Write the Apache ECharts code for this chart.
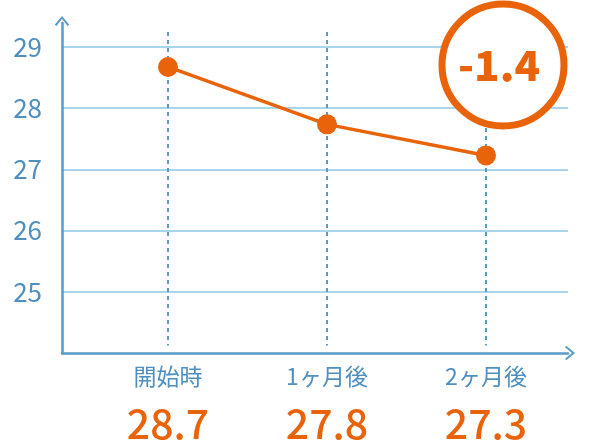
<!DOCTYPE html>
<html>
<head>
<meta charset="utf-8">
<script src="https://cdn.jsdelivr.net/npm/echarts@6/dist/echarts.min.js"></script>
<style>
  html, body { margin: 0; padding: 0; background: #fff; }
  #chart { width: 600px; height: 444px; }
</style>
</head>
<body>
<div id="chart"></div>
<script>
// データ
var categories = ['開始時', '1ヶ月後', '2ヶ月後'];
var values = [28.66, 27.7, 27.18];          // plotted positions
var valueLabels = ['28.7', '27.8', '27.3'];  // printed under axis
var yTicks = [25, 26, 27, 28, 29];
var diffText = '-1.4';

var orange = '#E8630A';
var blue = '#5a9ac6';
var textBlue = '#4f8fc0';
var gridBlue = '#a9d5ec';
var font = '"Noto Sans CJK JP", "Noto Sans", sans-serif';

// 矢印 (open chevron)
var chevron = 'path://M0,9 L7.5,0 L15,9 L13.3,10.3 L7.5,3.2 L1.7,10.3 Z';

var chart = echarts.init(document.getElementById('chart'));
var option = {
    animation: false,
    grid: [
        {left: 62, right: 32, top: 23, bottom: 91},
        {left: 168, right: 114, top: 32, bottom: 91}
    ],
    xAxis: [
        {
            gridIndex: 0, type: 'value', min: 0, max: 1,
            axisLine: {show: true, lineStyle: {color: blue, width: 2.5},
                symbol: ['none', chevron], symbolSize: [15, 10], symbolOffset: [0, 2]},
            axisTick: {show: false}, axisLabel: {show: false}, splitLine: {show: false}
        },
        {
            gridIndex: 1, type: 'category', boundaryGap: false, data: categories,
            axisLine: {show: false}, axisTick: {show: false},
            splitLine: {show: true, lineStyle: {color: blue, width: 2, type: [4, 4]}},
            axisLabel: {
                margin: 16,
                formatter: function (v, i) {
                    return '{c|' + v + '}\n{v|' + valueLabels[i] + '}';
                },
                rich: {
                    c: {fontSize: 23, color: textBlue, fontFamily: font, lineHeight: 30},
                    v: {fontSize: 41, color: orange, fontFamily: font, fontWeight: 500, lineHeight: 64}
                }
            }
        }
    ],
    yAxis: [
        {
            gridIndex: 0, type: 'value', min: 24, max: 29.392, interval: 1,
            axisLine: {show: true, lineStyle: {color: blue, width: 2.5},
                symbol: ['none', chevron], symbolSize: [15, 10], symbolOffset: [0, 2]},
            axisTick: {show: false},
            axisLabel: {
                margin: 20, fontSize: 26, color: textBlue, fontFamily: font,
                formatter: function (v) { return yTicks.indexOf(v) >= 0 ? String(v) : ''; }
            },
            splitLine: {show: true, lineStyle: {width: 2,
                color: ['rgba(0,0,0,0)', gridBlue, gridBlue, gridBlue, gridBlue, gridBlue, 'rgba(0,0,0,0)']}}
        },
        {
            gridIndex: 1, type: 'value', min: 24, max: 29.245, show: false,
            splitLine: {show: false}
        }
    ],
    series: [{
        type: 'line',
        xAxisIndex: 1, yAxisIndex: 1,
        data: values,
        symbol: 'circle', symbolSize: 20,
        lineStyle: {color: orange, width: 3.5},
        itemStyle: {color: orange},
        z: 5
    }],
    graphic: [
        {type: 'circle', z: 100, shape: {cx: 503, cy: 65, r: 61},
         style: {fill: '#ffffff', stroke: orange, lineWidth: 7}},
        {type: 'text', z: 101, x: 499, y: 65,
         style: {text: diffText, fill: orange, fontSize: 42, fontWeight: 900,
                 fontFamily: font, textAlign: 'center', textVerticalAlign: 'middle'}}
    ]
};
chart.setOption(option);
</script>
</body>
</html>
